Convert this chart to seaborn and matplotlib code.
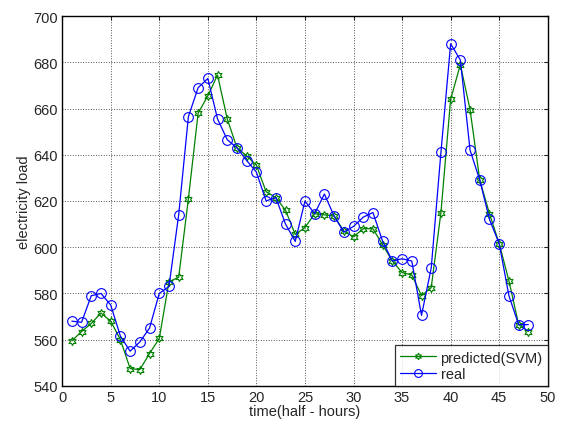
import matplotlib
matplotlib.use("Agg")
import matplotlib.pyplot as plt
import seaborn as sns
import numpy as np

# half-hour index
t = list(range(1, 49))

# real load
real = [568, 567.5, 579, 580, 575, 561.5, 555, 559, 565, 580,
        583, 614, 656.5, 669, 673, 655.5, 646.5, 643, 637.5, 632.5,
        620, 621.5, 610, 602.5, 620, 614.5, 623, 613.5, 606.5, 609,
        613, 615, 602.5, 594, 595, 594, 570.5, 591, 641, 688,
        681, 642, 629, 612, 601.5, 579, 566.5, 566.5]

# SVM prediction
pred = [559.5, 563.5, 567, 571.5, 568, 560, 547.5, 547, 554, 560.5,
        585, 587, 621, 658, 665.5, 674.5, 655.5, 643, 639.5, 635.5,
        624, 621.5, 616, 605.5, 608.5, 614.5, 614, 613.5, 607, 604.5,
        608, 608, 601, 594, 589, 588, 579, 582.5, 615, 664,
        679, 659.5, 629, 614.5, 601.5, 585.5, 566.5, 563.5]

sns.set_style("white")
plt.rcParams['font.family'] = ['Liberation Sans', 'DejaVu Sans']

fig = plt.figure(figsize=(5.7, 4.27), dpi=100)
ax = fig.add_axes([0.109, 0.094, 0.852, 0.866])

hexagram = (6, 1, 0)
sns.lineplot(x=t, y=pred, ax=ax, color="#008000", lw=0.9, marker=hexagram,
             markersize=6, markerfacecolor="none", markeredgecolor="#008000",
             markeredgewidth=0.8, label="predicted(SVM)")
sns.lineplot(x=t, y=real, ax=ax, color="#0000FF", lw=0.9, marker="o",
             markersize=7, markerfacecolor="none", markeredgecolor="#0000FF",
             markeredgewidth=0.8, label="real")

ax.set_xlim(0, 50)
ax.set_ylim(540, 700)
ax.set_xticks(np.arange(0, 51, 5))
ax.set_yticks(np.arange(540, 701, 20))
ax.grid(True, color="#555555", linestyle=":", linewidth=0.7)
ax.tick_params(direction="in", top=True, right=True, labelsize=10.5, length=3,
               pad=3)
for s in ax.spines.values():
    s.set_color("black")
    s.set_linewidth(1.0)

ax.set_xlabel("time(half - hours)", fontsize=10.5, labelpad=0)
ax.set_ylabel("electricity load", fontsize=10.5, labelpad=2)

leg = ax.legend(loc="lower right", fontsize=10.5, frameon=True, fancybox=False,
                edgecolor="black", borderaxespad=0, handlelength=2.5,
                handletextpad=0.3, borderpad=0.35, labelspacing=0.15,
                markerscale=0.8)
leg.get_frame().set_linewidth(0.9)

fig.savefig("out.png", dpi=100)
